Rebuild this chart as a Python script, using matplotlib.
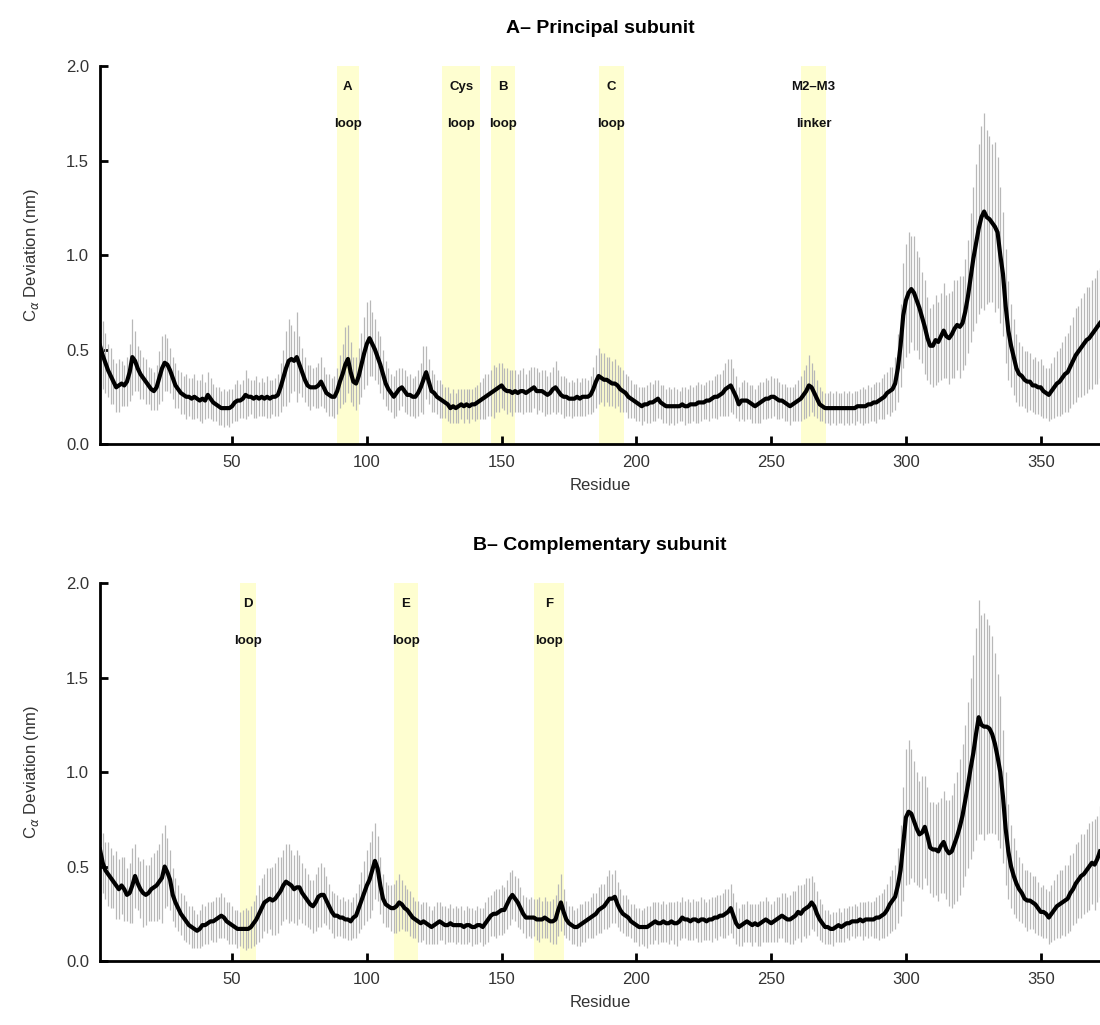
import numpy as np
import matplotlib
matplotlib.use("Agg")
import matplotlib.pyplot as plt

plt.rcParams["font.family"] = ["Liberation Sans", "DejaVu Sans"]

# mean C-alpha deviation per residue (nm), principal subunit
mean_a = [
    0.52, 0.47, 0.43, 0.39, 0.36, 0.33, 0.30, 0.31, 0.32, 0.31,
    0.33, 0.38, 0.46, 0.44, 0.40, 0.37, 0.35, 0.33, 0.31, 0.29,
    0.28, 0.30, 0.35, 0.40, 0.43, 0.42, 0.39, 0.35, 0.31, 0.29,
    0.27, 0.26, 0.25, 0.25, 0.24, 0.25, 0.24, 0.23, 0.24, 0.23,
    0.26, 0.24, 0.22, 0.21, 0.20, 0.19, 0.19, 0.19, 0.19, 0.20,
    0.22, 0.23, 0.23, 0.24, 0.26, 0.25, 0.25, 0.24, 0.25, 0.24,
    0.25, 0.24, 0.25, 0.24, 0.25, 0.25, 0.26, 0.30, 0.35, 0.40,
    0.44, 0.45, 0.44, 0.46, 0.42, 0.38, 0.34, 0.31, 0.30, 0.30,
    0.30, 0.31, 0.33, 0.30, 0.27, 0.26, 0.25, 0.25, 0.28, 0.33,
    0.37, 0.42, 0.45, 0.38, 0.33, 0.32, 0.36, 0.42, 0.48, 0.53,
    0.56, 0.53, 0.50, 0.46, 0.42, 0.37, 0.32, 0.29, 0.27, 0.25,
    0.27, 0.29, 0.30, 0.28, 0.26, 0.26, 0.25, 0.25, 0.27, 0.30,
    0.34, 0.38, 0.33, 0.28, 0.27, 0.25, 0.24, 0.23, 0.22, 0.21,
    0.19, 0.20, 0.19, 0.20, 0.21, 0.20, 0.21, 0.20, 0.21, 0.21,
    0.22, 0.23, 0.24, 0.25, 0.26, 0.27, 0.28, 0.29, 0.30, 0.31,
    0.29, 0.28, 0.28, 0.27, 0.28, 0.27, 0.28, 0.28, 0.27, 0.28,
    0.29, 0.30, 0.28, 0.28, 0.28, 0.27, 0.26, 0.27, 0.29, 0.30,
    0.28, 0.26, 0.25, 0.25, 0.24, 0.24, 0.24, 0.25, 0.24, 0.25,
    0.25, 0.25, 0.26, 0.29, 0.33, 0.36, 0.35, 0.34, 0.34, 0.33,
    0.32, 0.32, 0.31, 0.29, 0.28, 0.27, 0.25, 0.24, 0.23, 0.22,
    0.21, 0.20, 0.21, 0.21, 0.22, 0.22, 0.23, 0.24, 0.22, 0.21,
    0.20, 0.20, 0.20, 0.20, 0.20, 0.20, 0.21, 0.20, 0.20, 0.21,
    0.21, 0.21, 0.22, 0.22, 0.22, 0.23, 0.23, 0.24, 0.25, 0.25,
    0.26, 0.27, 0.29, 0.30, 0.31, 0.28, 0.25, 0.21, 0.23, 0.23,
    0.23, 0.22, 0.21, 0.20, 0.21, 0.22, 0.23, 0.24, 0.24, 0.25,
    0.25, 0.24, 0.23, 0.23, 0.22, 0.21, 0.20, 0.21, 0.22, 0.23,
    0.24, 0.26, 0.28, 0.31, 0.30, 0.27, 0.24, 0.21, 0.20, 0.19,
    0.19, 0.19, 0.19, 0.19, 0.19, 0.19, 0.19, 0.19, 0.19, 0.19,
    0.19, 0.20, 0.20, 0.20, 0.20, 0.21, 0.21, 0.22, 0.22, 0.23,
    0.24, 0.25, 0.27, 0.28, 0.29, 0.32, 0.40, 0.52, 0.68, 0.76,
    0.80, 0.82, 0.80, 0.76, 0.72, 0.67, 0.62, 0.56, 0.52, 0.52,
    0.55, 0.54, 0.57, 0.60, 0.57, 0.56, 0.58, 0.61, 0.63, 0.62,
    0.64, 0.70, 0.78, 0.88, 0.98, 1.06, 1.14, 1.20, 1.23, 1.20,
    1.19, 1.17, 1.15, 1.12, 1.00, 0.90, 0.73, 0.60, 0.52, 0.46,
    0.40, 0.37, 0.36, 0.34, 0.33, 0.33, 0.31, 0.31, 0.30, 0.30,
    0.28, 0.27, 0.26, 0.28, 0.30, 0.32, 0.33, 0.35, 0.37, 0.38,
    0.41, 0.44, 0.47, 0.49, 0.51, 0.53, 0.55, 0.56, 0.58, 0.60, 0.62, 0.64,
]

err_a = [
    0.22, 0.18, 0.16, 0.14, 0.15, 0.12, 0.13, 0.14, 0.12, 0.11,
    0.13, 0.15, 0.20, 0.16, 0.12, 0.13, 0.11, 0.12, 0.10, 0.11,
    0.10, 0.12, 0.14, 0.17, 0.15, 0.14, 0.12, 0.11, 0.12, 0.10,
    0.11, 0.10, 0.12, 0.10, 0.11, 0.12, 0.10, 0.11, 0.13, 0.10,
    0.12, 0.11, 0.10, 0.09, 0.10, 0.09, 0.10, 0.09, 0.10, 0.09,
    0.10, 0.11, 0.09, 0.10, 0.13, 0.10, 0.09, 0.10, 0.11, 0.09,
    0.10, 0.09, 0.11, 0.10, 0.09, 0.10, 0.11, 0.13, 0.15, 0.20,
    0.22, 0.18, 0.16, 0.24, 0.15, 0.13, 0.12, 0.11, 0.12, 0.10,
    0.11, 0.12, 0.13, 0.11, 0.10, 0.11, 0.10, 0.11, 0.12, 0.14,
    0.16, 0.20, 0.18, 0.16, 0.13, 0.14, 0.15, 0.17, 0.19, 0.22,
    0.20, 0.17, 0.16, 0.14, 0.15, 0.13, 0.12, 0.11, 0.10, 0.11,
    0.12, 0.11, 0.10, 0.11, 0.10, 0.11, 0.10, 0.11, 0.12, 0.13,
    0.18, 0.14, 0.12, 0.11, 0.10, 0.09, 0.10, 0.09, 0.08, 0.09,
    0.08, 0.09, 0.08, 0.09, 0.08, 0.09, 0.08, 0.09, 0.08, 0.09,
    0.09, 0.10, 0.11, 0.12, 0.11, 0.12, 0.14, 0.12, 0.13, 0.12,
    0.11, 0.12, 0.11, 0.12, 0.11, 0.10, 0.11, 0.12, 0.10, 0.11,
    0.12, 0.11, 0.12, 0.10, 0.11, 0.12, 0.10, 0.11, 0.12, 0.14,
    0.11, 0.10, 0.11, 0.10, 0.09, 0.10, 0.09, 0.10, 0.09, 0.10,
    0.10, 0.09, 0.10, 0.12, 0.14, 0.15, 0.13, 0.14, 0.12, 0.13,
    0.12, 0.13, 0.11, 0.12, 0.11, 0.10, 0.11, 0.10, 0.09, 0.10,
    0.09, 0.10, 0.09, 0.10, 0.11, 0.10, 0.11, 0.10, 0.09, 0.10,
    0.09, 0.10, 0.09, 0.10, 0.09, 0.08, 0.09, 0.10, 0.09, 0.10,
    0.09, 0.10, 0.11, 0.10, 0.09, 0.10, 0.11, 0.10, 0.11, 0.12,
    0.11, 0.12, 0.14, 0.15, 0.14, 0.12, 0.11, 0.09, 0.10, 0.11,
    0.10, 0.09, 0.10, 0.09, 0.10, 0.11, 0.10, 0.11, 0.10, 0.11,
    0.10, 0.11, 0.10, 0.09, 0.10, 0.09, 0.10, 0.09, 0.10, 0.11,
    0.12, 0.13, 0.14, 0.16, 0.13, 0.12, 0.10, 0.09, 0.08, 0.08,
    0.08, 0.09, 0.08, 0.09, 0.08, 0.08, 0.09, 0.08, 0.09, 0.08,
    0.09, 0.08, 0.09, 0.10, 0.09, 0.10, 0.09, 0.10, 0.11, 0.10,
    0.11, 0.12, 0.11, 0.13, 0.12, 0.14, 0.18, 0.22, 0.28, 0.30,
    0.32, 0.28, 0.30, 0.26, 0.27, 0.24, 0.25, 0.22, 0.20, 0.22,
    0.24, 0.21, 0.23, 0.25, 0.22, 0.24, 0.23, 0.26, 0.24, 0.27,
    0.25, 0.28, 0.30, 0.34, 0.38, 0.42, 0.45, 0.48, 0.52, 0.46,
    0.44, 0.42, 0.45, 0.40, 0.36, 0.33, 0.30, 0.26, 0.22, 0.20,
    0.18, 0.17, 0.16, 0.15, 0.16, 0.15, 0.14, 0.15, 0.14, 0.15,
    0.14, 0.13, 0.14, 0.15, 0.16, 0.17, 0.18, 0.19, 0.20, 0.21,
    0.22, 0.23, 0.25, 0.24, 0.26, 0.27, 0.28, 0.27, 0.29, 0.28, 0.30, 0.29,
]

# complementary subunit
mean_b = [
    0.59, 0.52, 0.48, 0.46, 0.44, 0.42, 0.40, 0.38, 0.40, 0.38,
    0.35, 0.36, 0.40, 0.45, 0.41, 0.38, 0.36, 0.35, 0.36, 0.38,
    0.39, 0.40, 0.42, 0.44, 0.50, 0.47, 0.43, 0.35, 0.31, 0.28,
    0.25, 0.23, 0.21, 0.19, 0.18, 0.17, 0.16, 0.17, 0.19, 0.19,
    0.20, 0.21, 0.21, 0.22, 0.23, 0.24, 0.23, 0.21, 0.20, 0.19,
    0.18, 0.17, 0.17, 0.17, 0.17, 0.17, 0.18, 0.20, 0.22, 0.25,
    0.28, 0.31, 0.32, 0.33, 0.32, 0.33, 0.35, 0.37, 0.40, 0.42,
    0.41, 0.40, 0.38, 0.39, 0.39, 0.36, 0.34, 0.32, 0.30, 0.29,
    0.31, 0.34, 0.35, 0.35, 0.32, 0.29, 0.26, 0.24, 0.24, 0.23,
    0.23, 0.22, 0.22, 0.21, 0.23, 0.24, 0.28, 0.32, 0.36, 0.40,
    0.43, 0.48, 0.53, 0.49, 0.40, 0.33, 0.30, 0.29, 0.28, 0.28,
    0.29, 0.31, 0.30, 0.28, 0.27, 0.25, 0.23, 0.22, 0.21, 0.20,
    0.21, 0.20, 0.19, 0.18, 0.19, 0.20, 0.21, 0.20, 0.19, 0.19,
    0.20, 0.19, 0.19, 0.19, 0.19, 0.18, 0.19, 0.19, 0.18, 0.18,
    0.19, 0.19, 0.18, 0.20, 0.22, 0.24, 0.25, 0.25, 0.26, 0.27,
    0.27, 0.30, 0.33, 0.35, 0.33, 0.31, 0.28, 0.25, 0.23, 0.23,
    0.23, 0.23, 0.22, 0.22, 0.22, 0.23, 0.22, 0.21, 0.21, 0.22,
    0.27, 0.31, 0.26, 0.22, 0.20, 0.19, 0.18, 0.18, 0.19, 0.20,
    0.21, 0.22, 0.23, 0.24, 0.25, 0.27, 0.28, 0.29, 0.31, 0.33,
    0.33, 0.34, 0.30, 0.27, 0.25, 0.24, 0.23, 0.21, 0.20, 0.19,
    0.18, 0.18, 0.18, 0.18, 0.19, 0.20, 0.21, 0.20, 0.20, 0.21,
    0.20, 0.20, 0.21, 0.20, 0.20, 0.21, 0.23, 0.22, 0.22, 0.21,
    0.22, 0.22, 0.21, 0.22, 0.22, 0.21, 0.22, 0.22, 0.23, 0.23,
    0.24, 0.24, 0.25, 0.26, 0.28, 0.24, 0.20, 0.18, 0.19, 0.20,
    0.21, 0.20, 0.19, 0.20, 0.19, 0.20, 0.21, 0.22, 0.21, 0.20,
    0.21, 0.22, 0.23, 0.24, 0.23, 0.22, 0.22, 0.23, 0.24, 0.26,
    0.25, 0.27, 0.28, 0.29, 0.31, 0.29, 0.25, 0.22, 0.20, 0.18,
    0.18, 0.17, 0.17, 0.18, 0.19, 0.18, 0.19, 0.20, 0.20, 0.21,
    0.21, 0.21, 0.22, 0.21, 0.22, 0.22, 0.22, 0.22, 0.23, 0.23,
    0.24, 0.25, 0.27, 0.30, 0.32, 0.34, 0.40, 0.48, 0.62, 0.76,
    0.79, 0.78, 0.74, 0.70, 0.67, 0.68, 0.71, 0.66, 0.60, 0.59,
    0.59, 0.58, 0.61, 0.63, 0.59, 0.57, 0.58, 0.62, 0.66, 0.71,
    0.77, 0.85, 0.93, 1.02, 1.10, 1.20, 1.29, 1.25, 1.24, 1.24,
    1.23, 1.20, 1.15, 1.08, 1.00, 0.87, 0.70, 0.58, 0.50, 0.45,
    0.41, 0.38, 0.36, 0.33, 0.32, 0.32, 0.31, 0.30, 0.28, 0.26,
    0.26, 0.25, 0.23, 0.25, 0.27, 0.29, 0.30, 0.31, 0.32, 0.33,
    0.36, 0.38, 0.41, 0.43, 0.45, 0.46, 0.48, 0.50, 0.52, 0.51, 0.54, 0.58,
]

err_b = [
    0.12, 0.16, 0.15, 0.17, 0.16, 0.14, 0.18, 0.16, 0.15, 0.17,
    0.14, 0.16, 0.20, 0.17, 0.14, 0.15, 0.18, 0.16, 0.15, 0.17,
    0.18, 0.19, 0.20, 0.24, 0.22, 0.18, 0.16, 0.14, 0.13, 0.12,
    0.11, 0.12, 0.11, 0.10, 0.11, 0.10, 0.09, 0.10, 0.11, 0.10,
    0.11, 0.10, 0.11, 0.12, 0.11, 0.12, 0.11, 0.10, 0.11, 0.10,
    0.09, 0.10, 0.09, 0.10, 0.11, 0.10, 0.11, 0.12, 0.13, 0.15,
    0.16, 0.15, 0.17, 0.16, 0.18, 0.19, 0.20, 0.18, 0.19, 0.20,
    0.21, 0.19, 0.18, 0.20, 0.17, 0.16, 0.15, 0.14, 0.13, 0.14,
    0.15, 0.16, 0.17, 0.15, 0.13, 0.12, 0.11, 0.12, 0.11, 0.10,
    0.11, 0.10, 0.11, 0.10, 0.11, 0.12, 0.13, 0.15, 0.17, 0.19,
    0.20, 0.21, 0.20, 0.17, 0.15, 0.13, 0.12, 0.11, 0.12, 0.13,
    0.14, 0.15, 0.13, 0.12, 0.11, 0.12, 0.11, 0.10, 0.11, 0.10,
    0.10, 0.11, 0.10, 0.09, 0.10, 0.11, 0.10, 0.09, 0.10, 0.09,
    0.10, 0.09, 0.10, 0.09, 0.10, 0.09, 0.10, 0.09, 0.10, 0.09,
    0.10, 0.09, 0.10, 0.11, 0.12, 0.11, 0.12, 0.13, 0.12, 0.13,
    0.12, 0.13, 0.14, 0.13, 0.12, 0.13, 0.11, 0.10, 0.11, 0.10,
    0.11, 0.10, 0.11, 0.12, 0.10, 0.11, 0.10, 0.11, 0.12, 0.13,
    0.14, 0.15, 0.12, 0.10, 0.09, 0.10, 0.09, 0.10, 0.11, 0.10,
    0.11, 0.10, 0.11, 0.12, 0.11, 0.12, 0.13, 0.12, 0.14, 0.15,
    0.13, 0.14, 0.12, 0.11, 0.10, 0.11, 0.10, 0.09, 0.10, 0.09,
    0.10, 0.09, 0.10, 0.11, 0.10, 0.11, 0.10, 0.11, 0.10, 0.11,
    0.10, 0.11, 0.10, 0.11, 0.12, 0.10, 0.11, 0.10, 0.11, 0.10,
    0.11, 0.10, 0.11, 0.12, 0.11, 0.10, 0.11, 0.12, 0.11, 0.12,
    0.11, 0.12, 0.13, 0.12, 0.13, 0.12, 0.11, 0.10, 0.11, 0.10,
    0.11, 0.10, 0.11, 0.10, 0.11, 0.12, 0.11, 0.12, 0.11, 0.10,
    0.11, 0.12, 0.11, 0.12, 0.13, 0.12, 0.13, 0.14, 0.13, 0.14,
    0.15, 0.14, 0.16, 0.15, 0.14, 0.13, 0.12, 0.11, 0.10, 0.09,
    0.09, 0.08, 0.09, 0.08, 0.09, 0.08, 0.09, 0.08, 0.09, 0.08,
    0.09, 0.08, 0.09, 0.10, 0.09, 0.10, 0.09, 0.10, 0.11, 0.12,
    0.12, 0.13, 0.14, 0.15, 0.16, 0.17, 0.20, 0.24, 0.30, 0.36,
    0.38, 0.34, 0.32, 0.30, 0.28, 0.30, 0.27, 0.26, 0.24, 0.25,
    0.24, 0.26, 0.25, 0.27, 0.26, 0.28, 0.30, 0.32, 0.34, 0.36,
    0.38, 0.40, 0.44, 0.48, 0.52, 0.56, 0.62, 0.58, 0.60, 0.57,
    0.55, 0.52, 0.48, 0.44, 0.40, 0.35, 0.30, 0.25, 0.22, 0.20,
    0.18, 0.17, 0.16, 0.15, 0.16, 0.15, 0.14, 0.15, 0.14, 0.13,
    0.14, 0.13, 0.14, 0.15, 0.16, 0.17, 0.18, 0.17, 0.19, 0.18,
    0.20, 0.19, 0.21, 0.20, 0.22, 0.21, 0.22, 0.23, 0.22, 0.24, 0.23, 0.24,
]

# highlighted regions: (start, end, line1, line2)
regions_a = [
    (89, 97, "A", "loop"),
    (128, 142, "Cys", "loop"),
    (146, 155, "B", "loop"),
    (186, 195.5, "C", "loop"),
    (261, 270.5, "M2\u2013M3", "linker"),
]
regions_b = [
    (53, 59, "D", "loop"),
    (110, 119, "E", "loop"),
    (162, 173, "F", "loop"),
]

fig = plt.figure(figsize=(11, 10.25), dpi=100)
ax_a = fig.add_axes([0.0909, 0.5668, 0.9091, 0.3688])
ax_b = fig.add_axes([0.0909, 0.0624, 0.9091, 0.3688])


def draw_panel(ax, mean, err, regions, title):
    x = np.arange(1, len(mean) + 1)
    for start, end, l1, l2 in regions:
        ax.axvspan(start, end, color="#fefed0", lw=0, zorder=0)
        mid = (start + end) / 2
        ax.text(mid, 1.89, l1, ha="center", va="center", fontsize=9.5,
                fontweight="bold", color="#111111")
        ax.text(mid, 1.695, l2, ha="center", va="center", fontsize=9.5,
                fontweight="bold", color="#111111")
    ax.errorbar(x, mean, yerr=err, fmt="none", ecolor="#b8b8b8",
                elinewidth=0.9, capsize=0, zorder=2)
    ax.plot(x, mean, color="black", lw=3, zorder=3)

    ax.set_xlim(1, 372)
    ax.set_ylim(0, 2.0)
    ax.set_xticks([50, 100, 150, 200, 250, 300, 350])
    ax.set_yticks([0.0, 0.5, 1.0, 1.5, 2.0])
    ax.set_yticklabels(["0.0", "0.5", "1.0", "1.5", "2.0"])
    ax.tick_params(direction="in", length=6, width=2, labelsize=12,
                   labelcolor="#333333", pad=8)
    for side in ["top", "right"]:
        ax.spines[side].set_visible(False)
    for side in ["left", "bottom"]:
        ax.spines[side].set_linewidth(2)
    ax.set_xlabel("Residue", fontsize=12, color="#333333", labelpad=6)
    ax.set_ylabel(r"C$_\alpha$ Deviation (nm)", fontsize=12,
                  color="#333333", labelpad=18)
    ax.set_title(title, fontsize=14, fontweight="bold", pad=24)


draw_panel(ax_a, mean_a, err_a, regions_a, "A\u2013 Principal subunit")
draw_panel(ax_b, mean_b, err_b, regions_b, "B\u2013 Complementary subunit")

fig.savefig("out.png", dpi=100)
